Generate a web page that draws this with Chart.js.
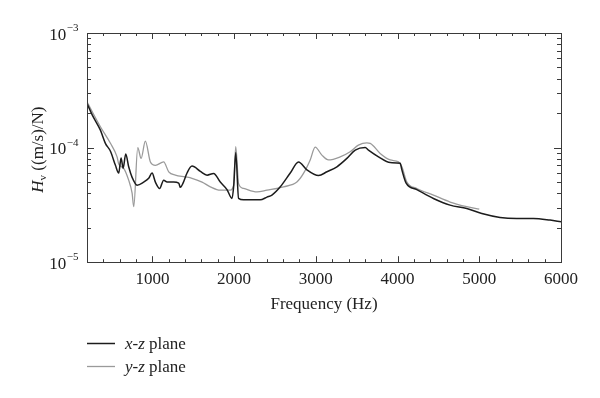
<!DOCTYPE html>
<html>
<head>
<meta charset="utf-8">
<script src="https://cdn.jsdelivr.net/npm/chart.js@4.4.1/dist/chart.umd.min.js"></script>
<style>
  html, body { margin: 0; padding: 0; background: #fff; }
  #chart { display: block; }
</style>
</head>
<body>
<canvas id="chart" width="600" height="398"></canvas>
<script>
// x-z plane measurement (frequency in Hz, Hv in (m/s)/N)
const freqXZ = [200, 265, 364, 425, 487, 548, 588, 617, 642, 674, 710, 752, 813, 894, 955, 996, 1037, 1089, 1138, 1180,
  1260, 1322, 1342, 1375, 1424, 1485, 1587, 1669, 1749, 1831, 1913, 1974, 1996, 2020, 2055, 2116, 2320, 2402, 2463, 2565,
  2687, 2788, 2891, 3033, 3136, 3258, 3380, 3482, 3604, 3644, 3767, 3910, 4032, 4053, 4105, 4236, 4439, 4643, 4847, 5031,
  5254, 5458, 5662, 5866, 6000];
const hvXZ = [2.43e-4, 1.92e-4, 1.42e-4, 1.09e-4, 9.3e-5, 7.0e-5, 6.0e-5, 8.1e-5, 6.6e-5, 8.8e-5, 6.8e-5, 5.5e-5, 4.7e-5, 5.0e-5, 5.4e-5, 6.0e-5, 5.0e-5, 4.4e-5, 5.2e-5, 5.0e-5,
  5.0e-5, 4.9e-5, 4.5e-5, 4.9e-5, 6.0e-5, 6.9e-5, 6.2e-5, 5.75e-5, 5.95e-5, 5.0e-5, 4.3e-5, 3.6e-5, 4.7e-5, 9.0e-5, 3.6e-5, 3.5e-5, 3.5e-5, 3.7e-5, 3.85e-5, 4.55e-5,
  6.0e-5, 7.5e-5, 6.4e-5, 5.7e-5, 6.15e-5, 6.8e-5, 8.05e-5, 9.5e-5, 1.0e-4, 9.5e-5, 8.3e-5, 7.4e-5, 7.3e-5, 6.4e-5, 4.9e-5, 4.3e-5, 3.6e-5, 3.15e-5, 2.94e-5, 2.66e-5,
  2.46e-5, 2.41e-5, 2.41e-5, 2.33e-5, 2.25e-5];

// y-z plane measurement
const freqYZ = [200, 364, 487, 568, 588, 649, 710, 752, 772, 821, 862, 914, 976, 1037, 1138, 1200, 1281, 1403, 1485, 1608,
  1709, 1831, 1954, 1994, 2020, 2055, 2116, 2280, 2402, 2605, 2768, 2849, 2931, 2992, 3074, 3155, 3298, 3420, 3521, 3624,
  3665, 3787, 3910, 4011, 4053, 4114, 4236, 4439, 4643, 4847, 5000];
const hvYZ = [2.51e-4, 1.52e-4, 1.09e-4, 8.3e-5, 7.2e-5, 6.6e-5, 5.2e-5, 4.0e-5, 3.05e-5, 1.0e-4, 8.05e-5, 1.14e-4, 7.5e-5, 7.0e-5, 7.5e-5, 6.15e-5, 5.75e-5, 5.55e-5, 5.4e-5, 5.0e-5,
  4.55e-5, 4.25e-5, 4.25e-5, 4.7e-5, 1.02e-4, 4.85e-5, 4.4e-5, 4.1e-5, 4.25e-5, 4.55e-5, 5.0e-5, 5.95e-5, 7.8e-5, 1.01e-4, 8.6e-5, 7.8e-5, 8.3e-5, 9.2e-5, 1.05e-4, 1.1e-4,
  1.09e-4, 8.9e-5, 7.8e-5, 7.5e-5, 6.8e-5, 5.0e-5, 4.4e-5, 3.85e-5, 3.35e-5, 3.05e-5, 2.9e-5];

const seriesNames = ['x-z plane', 'y-z plane'];
const seriesColors = ['#1c1c1c', '#9a9a9a'];
const yDecades = [-5, -4, -3];          // labelled powers of ten
const xLabelStep = 1000;                  // labelled x ticks
const xMinorStep = 200;

const serif = '"Liberation Serif", "DejaVu Serif", serif';
const textColor = '#222';
const frameColor = '#3a3a3a';

function toPoints(xs, ys) {
  return xs.map((x, i) => ({ x: x, y: ys[i] }));
}

// every 1..9 x 10^n between the decades, for the inner tick marks
function logTickValues() {
  const vals = [];
  for (let d = yDecades[0]; d < yDecades[yDecades.length - 1]; d++) {
    for (let k = 1; k < 10; k++) vals.push(k * Math.pow(10, d));
  }
  vals.push(Math.pow(10, yDecades[yDecades.length - 1]));
  return vals;
}

// frame, inward ticks, y labels, y title and legend
const decorations = {
  id: 'decorations',
  afterDraw(chart) {
    const ctx = chart.ctx;
    const area = chart.chartArea;
    const xs = chart.scales.x;
    const ys = chart.scales.y;
    ctx.save();

    ctx.strokeStyle = frameColor;
    ctx.lineWidth = 1;
    ctx.strokeRect(Math.round(area.left) + 0.5, Math.round(area.top) + 0.5,
      Math.round(area.right - area.left), Math.round(area.bottom - area.top));

    ctx.beginPath();
    xs.ticks.forEach(t => {
      const px = Math.round(xs.getPixelForValue(t.value)) + 0.5;
      const len = t.value % xLabelStep === 0 ? 6 : 3;
      ctx.moveTo(px, area.bottom); ctx.lineTo(px, area.bottom - len);
      ctx.moveTo(px, area.top); ctx.lineTo(px, area.top + len);
    });
    ys.ticks.forEach(t => {
      const py = Math.round(ys.getPixelForValue(t.value)) + 0.5;
      const major = Math.abs(Math.log10(t.value) - Math.round(Math.log10(t.value))) < 1e-9;
      const len = major ? 7 : 4;
      ctx.moveTo(area.left, py); ctx.lineTo(area.left + len, py);
      ctx.moveTo(area.right, py); ctx.lineTo(area.right - len, py);
    });
    ctx.stroke();

    // y tick labels 10^n
    ctx.fillStyle = textColor;
    ctx.textBaseline = 'alphabetic';
    ctx.textAlign = 'left';
    yDecades.forEach(d => {
      const py = ys.getPixelForValue(Math.pow(10, d));
      const exp = '\u2212' + Math.abs(d);
      ctx.font = '17px ' + serif;
      const wBase = ctx.measureText('10').width;
      ctx.font = '11px ' + serif;
      const wExp = ctx.measureText(exp).width;
      const x0 = area.left - 9 - wBase - wExp;
      ctx.font = '17px ' + serif;
      ctx.fillText('10', x0, py + 6.5);
      ctx.font = '11px ' + serif;
      ctx.fillText(exp, x0 + wBase + 0.5, py - 2);
    });

    // y axis title: H_v ((m/s)/N)
    const midY = (area.top + area.bottom) / 2 + 2;
    ctx.translate(37, midY);
    ctx.rotate(-Math.PI / 2);
    const parts = [
      { t: 'H', f: 'italic 17px ' + serif, dy: 0 },
      { t: 'v', f: '11px ' + serif, dy: 3 },
      { t: ' ((m/s)/N)', f: '17px ' + serif, dy: 0 }
    ];
    let total = 0;
    parts.forEach(p => { ctx.font = p.f; p.w = ctx.measureText(p.t).width; total += p.w; });
    let cx = -total / 2;
    parts.forEach(p => { ctx.font = p.f; ctx.fillText(p.t, cx, 6 + p.dy); cx += p.w; });
    ctx.setTransform(1, 0, 0, 1, 0, 0);

    // legend
    const legendY = [343.5, 366.5];
    seriesNames.forEach((name, i) => {
      const ly = legendY[i];
      ctx.strokeStyle = seriesColors[i];
      ctx.lineWidth = i === 0 ? 1.5 : 1.3;
      ctx.beginPath();
      ctx.moveTo(87, ly); ctx.lineTo(115, ly);
      ctx.stroke();
      const split = name.indexOf(' ');
      ctx.fillStyle = textColor;
      ctx.font = 'italic 17px ' + serif;
      const head = name.slice(0, split);
      ctx.fillText(head, 125, ly + 5);
      const w = ctx.measureText(head).width;
      ctx.font = '17px ' + serif;
      ctx.fillText(name.slice(split), 125 + w, ly + 5);
    });

    ctx.restore();
  }
};

const ctx = document.getElementById('chart').getContext('2d');

new Chart(ctx, {
  type: 'line',
  data: {
    datasets: [
      {
        label: seriesNames[0],
        data: toPoints(freqXZ, hvXZ),
        borderColor: seriesColors[0],
        borderWidth: 1.5,
        pointRadius: 0,
        cubicInterpolationMode: 'monotone'
      },
      {
        label: seriesNames[1],
        data: toPoints(freqYZ, hvYZ),
        borderColor: seriesColors[1],
        borderWidth: 1.3,
        pointRadius: 0,
        cubicInterpolationMode: 'monotone'
      }
    ]
  },
  options: {
    responsive: false,
    animation: false,
    layout: { padding: { left: 87, top: 33, right: 39, bottom: 79 } },
    plugins: {
      legend: { display: false },
      tooltip: { enabled: false }
    },
    scales: {
      x: {
        type: 'linear',
        min: 200,
        max: 6000,
        grid: { display: false, drawTicks: false },
        border: { display: false },
        ticks: {
          stepSize: xMinorStep,
          autoSkip: false,
          maxRotation: 0,
          padding: 7,
          color: textColor,
          font: { family: serif, size: 17 },
          callback: v => (v % xLabelStep === 0 ? String(v) : '')
        },
        title: {
          display: true,
          text: 'Frequency (Hz)',
          color: textColor,
          font: { family: serif, size: 17 },
          padding: { top: -2, bottom: 4 }
        }
      },
      y: {
        type: 'logarithmic',
        min: Math.pow(10, yDecades[0]),
        max: Math.pow(10, yDecades[yDecades.length - 1]),
        grid: { display: false, drawTicks: false },
        border: { display: false },
        ticks: { display: false },
        afterBuildTicks: axis => {
          axis.ticks = logTickValues().map(v => ({ value: v }));
        }
      }
    }
  },
  plugins: [decorations]
});
</script>
</body>
</html>
